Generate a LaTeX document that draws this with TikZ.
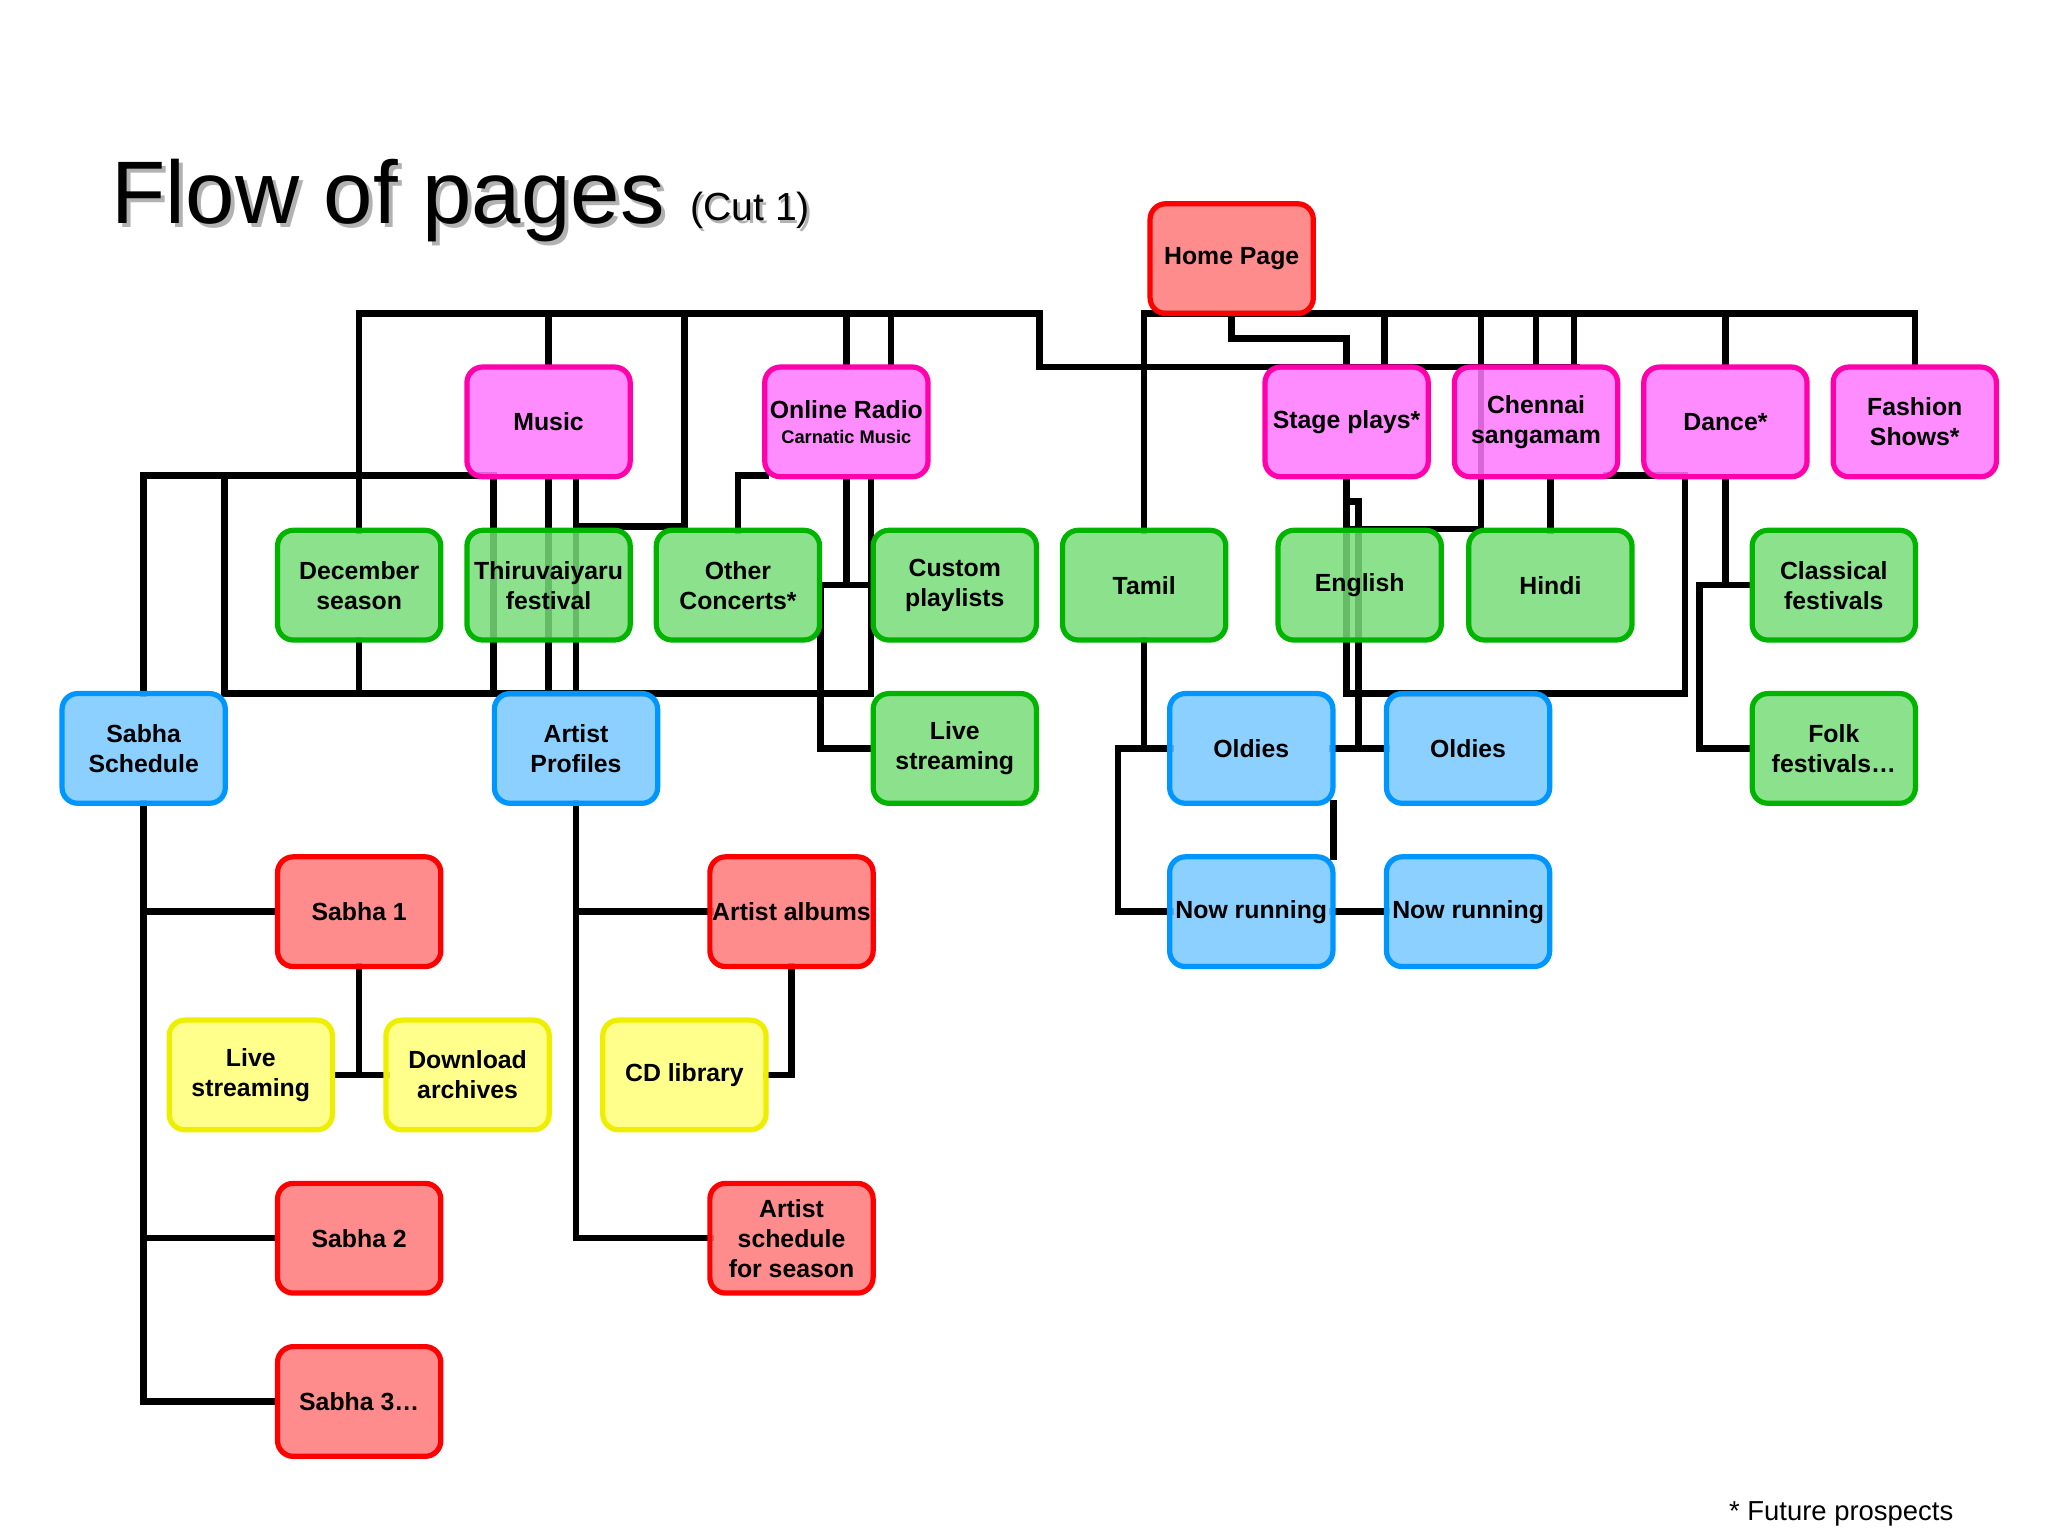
\documentclass[tikz,border=0pt]{standalone}
\usepackage{fontspec}
\setmainfont{Liberation Sans}
\begin{document}
\begin{tikzpicture}[x=1pt,y=-1pt,
 box/.style={rounded corners=12pt,line width=4pt,minimum width=125pt,minimum height=84pt,inner sep=1pt,align=center,font=\fontsize{19}{23}\selectfont\bfseries,fill opacity=0.85,text opacity=1},
 rbox/.style={box,draw={rgb,255:red,255;green,0;blue,0},fill={rgb,255:red,255;green,120;blue,120}},
 mbox/.style={box,draw={rgb,255:red,255;green,0;blue,170},fill={rgb,255:red,255;green,120;blue,255}},
 gbox/.style={box,draw={rgb,255:red,0;green,180;blue,0},fill={rgb,255:red,120;green,220;blue,120}},
 bbox/.style={box,draw={rgb,255:red,0;green,150;blue,255},fill={rgb,255:red,120;green,200;blue,255}},
 ybox/.style={box,draw={rgb,255:red,238;green,238;blue,0},fill={rgb,255:red,255;green,255;blue,120}},
 ln/.style={line width=5pt,line cap=rect}]
\useasboundingbox (0,0) rectangle (1568,1176);
% connectors
\draw[ln] (275,406)--(275,240)--(796,240)--(796,281)--(1207,281);
\draw[ln] (420,240)--(420,281);
\draw[ln] (441,403)--(524,403)--(524,240);
\draw[ln] (648,240)--(648,281);
\draw[ln] (682,240)--(682,281);
\draw[ln] (110,531)--(110,364)--(378,364);
\draw[ln] (172,364)--(172,531)--(667,531)--(667,366);
\draw[ln] (275,490)--(275,531);
\draw[ln] (378,366)--(378,531);
\draw[ln] (420,366)--(420,531);
\draw[ln] (441,366)--(441,531);
\draw[ln] (648,366)--(648,448);
\draw[ln] (628,448)--(667,448);
\draw[ln] (628,448)--(628,573)--(668,573);
\draw[ln] (565,406)--(565,364)--(586,364);
% left trees
\draw[ln] (110,615)--(110,1073)--(212,1073);
\draw[ln] (110,698)--(212,698);
\draw[ln] (110,948)--(212,948);
\draw[ln] (275,740)--(275,823);
\draw[ln] (255,823)--(296,823);
\draw[ln] (441,615)--(441,948)--(544,948);
\draw[ln] (441,698)--(544,698);
\draw[ln] (606,740)--(606,823)--(587,823);
% right side
\draw[ln] (876,406)--(876,240)--(1466,240)--(1466,281);
\draw[ln] (943,240)--(943,259)--(1031,259)--(1031,281);
\draw[ln] (1060,240)--(1060,281);
\draw[ln] (1176,240)--(1176,281);
\draw[ln] (1205,240)--(1205,281);
\draw[ln] (1321,240)--(1321,281);
\draw[ln] (1134,240)--(1134,405)--(1031,405);
\draw[ln] (1031,366)--(1031,531)--(1290,531)--(1290,364)--(1230,364);
\draw[ln] (1031,384)--(1040,384)--(1040,573);
\draw[ln] (1020,573)--(1062,573);
\draw[ln] (1187,366)--(1187,406);
\draw[ln] (876,490)--(876,573);
\draw[ln] (896,573)--(856,573)--(856,698)--(896,698);
\draw[ln] (1021,615)--(1021,656);
\draw[ln] (1020,698)--(1062,698);
\draw[ln] (1321,366)--(1321,448)--(1341,448);
\draw[ln] (1321,448)--(1301,448)--(1301,573)--(1341,573);
% nodes
\node[rbox] (home) at (943,198) {Home Page};
\node[mbox] (music) at (420,323) {Music};
\node[mbox] (radio) at (648,323) {Online Radio\\[-4pt]{\fontsize{14}{16}\selectfont Carnatic Music}};
\node[mbox] (stage) at (1031,323) {Stage plays*};
\node[mbox] (chennai) at (1176,323) {Chennai\\sangamam};
\node[mbox] (dance) at (1321,323) {Dance*};
\node[mbox] (fashion) at (1466,323) {Fashion\\Shows*};
\node[gbox] (dec) at (275,448) {December\\season};
\node[gbox] (thiru) at (420,448) {Thiruvaiyaru\\festival};
\node[gbox] (other) at (565,448) {Other\\Concerts*};
\node[gbox] (custom) at (731,448) {Custom\\playlists};
\node[gbox] (tamil) at (876,448) {Tamil};
\node[gbox] (english) at (1041,448) {English};
\node[gbox] (hindi) at (1187,448) {Hindi};
\node[gbox] (classical) at (1404,448) {Classical\\festivals};
\node[bbox] (sabhas) at (110,573) {Sabha\\Schedule};
\node[bbox] (artistp) at (441,573) {Artist\\Profiles};
\node[gbox] (livestr) at (731,573) {Live\\streaming};
\node[bbox] (oldies1) at (958,573) {Oldies};
\node[bbox] (oldies2) at (1124,573) {Oldies};
\node[gbox] (folk) at (1404,573) {Folk\\festivals\dots};
\node[rbox] (sabha1) at (275,698) {Sabha 1};
\node[rbox] (albums) at (606,698) {Artist albums};
\node[bbox] (now1) at (958,698) {Now running};
\node[bbox] (now2) at (1124,698) {Now running};
\node[ybox] (ylive) at (192,823) {Live\\streaming};
\node[ybox] (download) at (358,823) {Download\\archives};
\node[ybox] (cd) at (524,823) {CD library};
\node[rbox] (sabha2) at (275,948) {Sabha 2};
\node[rbox] (sched) at (606,948) {Artist\\schedule\\for season};
\node[rbox] (sabha3) at (275,1073) {Sabha 3\dots};
% title
\node[anchor=base west,text=gray!60,font=\fontsize{68}{70}\selectfont] at (85,174) {Flow of pages};
\node[anchor=base west,font=\fontsize{68}{70}\selectfont] (title) at (82,171) {Flow of pages};
\node[anchor=base west,text=gray!60,font=\fontsize{30}{32}\selectfont] at (527,171) {(Cut 1)};
\node[anchor=base west,font=\fontsize{30}{32}\selectfont] (cut) at (525,169) {(Cut 1)};
\node[anchor=base east,font=\fontsize{21}{24}\selectfont] (fp) at (1499,1164) {* Future prospects};
\end{tikzpicture}
\end{document}
